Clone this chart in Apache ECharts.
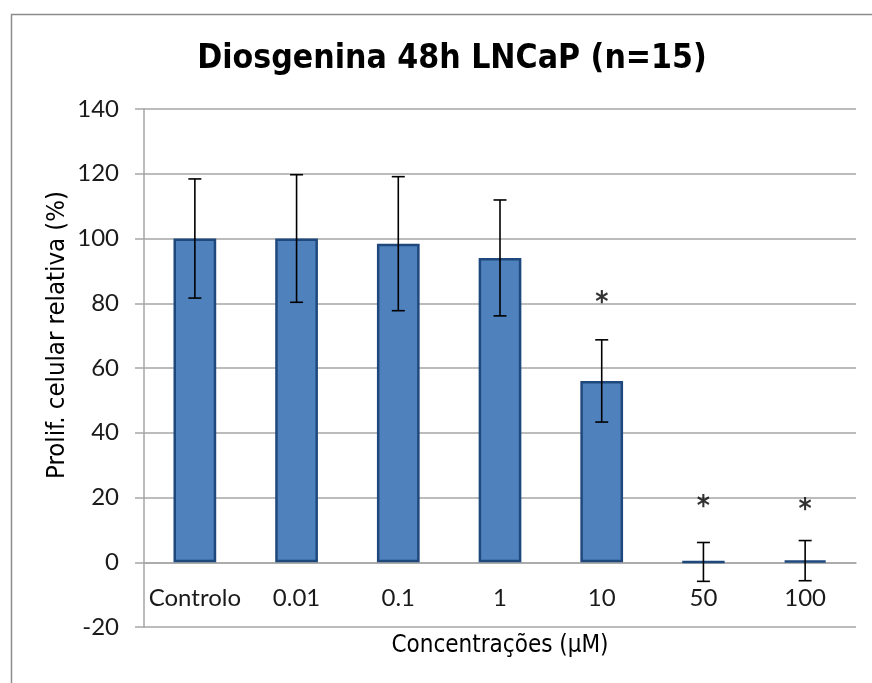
<!DOCTYPE html>
<html>
<head>
<meta charset="utf-8">
<script src="https://cdn.jsdelivr.net/npm/echarts@6/dist/echarts.min.js"></script>
<style>
  html, body { margin: 0; padding: 0; background: #ffffff; }
  #chart { width: 872px; height: 683px; }
</style>
</head>
<body>
<div id="chart"></div>
<script>
// Relative proliferation of LNCaP cells after 48 h of diosgenin
const categories = ['Controlo', '0.01', '0.1', '1', '10', '50', '100'];
const meanValues = [100, 100, 98.4, 94.0, 56.0, 0.1, 0.5];
const errorValues = [18.4, 19.7, 20.7, 17.9, 12.7, 6.0, 6.2];
// significance marks: category index and height of the asterisk
const starCategories = [4, 5, 6];
const starHeights = [82, 19, 18];
const yMin = -20, yMax = 140, yStep = 20;

const labelFont = 'Lato, "Open Sans", sans-serif';
const nameFont = '"DejaVu Sans Condensed", "DejaVu Sans", sans-serif';

const W = 872, H = 683;
const gridBox = { left: 144, right: 16, top: 109, bottom: 56 };
// the category axis sits on y = 0, so lift it from the bottom of the grid
const plotHeight = H - gridBox.top - gridBox.bottom;
const zeroLift = plotHeight * (0 - yMin) / (yMax - yMin);

const errorData = meanValues.map((v, i) => [i, v - errorValues[i], v + errorValues[i]]);
const starData = starCategories.map((c, i) => [c, starHeights[i]]);

const chart = echarts.init(document.getElementById('chart'), null, { renderer: 'canvas' });

chart.setOption({
  backgroundColor: '#ffffff',
  animation: false,
  title: {
    text: 'Diosgenina 48h LNCaP (n=15)',
    left: 447,
    textAlign: 'center',
    top: 37,
    textStyle: { fontFamily: nameFont, fontWeight: 'bold', fontSize: 33.5, color: '#000' }
  },
  graphic: [
    {
      type: 'rect',
      left: 9, top: 12,
      shape: { x: 0, y: 0, width: 880, height: 700 },
      style: { fill: 'none', stroke: '#8c8c8c', lineWidth: 1.5 },
      silent: true, z: -10
    },
    {
      type: 'text',
      x: 57, y: 335,
      rotation: Math.PI / 2,
      style: {
        text: 'Prolif. celular relativa (%)',
        fontFamily: nameFont, fontSize: 25.5, fill: '#000',
        align: 'center', verticalAlign: 'middle'
      }
    }
  ],
  grid: Object.assign({ containLabel: false, outerBoundsMode: 'none' }, gridBox),
  xAxis: {
    type: 'category',
    data: categories,
    offset: -zeroLift,
    name: 'Concentrações (µM)',
    nameLocation: 'middle',
    nameGap: 72,
    nameTextStyle: { fontFamily: nameFont, fontSize: 24, color: '#000' },
    axisLine: { onZero: false, lineStyle: { color: '#a6a6a6', width: 1.5 } },
    axisTick: { show: false },
    axisLabel: { interval: 0, margin: 24, fontFamily: labelFont, fontSize: 24, color: '#1a1a1a' }
  },
  yAxis: {
    type: 'value',
    min: yMin, max: yMax, interval: yStep,
    axisLine: { show: true, lineStyle: { color: '#a6a6a6', width: 1.5 } },
    axisTick: { show: true, inside: false, length: 9, lineStyle: { color: '#a6a6a6', width: 1.5 } },
    axisLabel: { margin: 25, fontFamily: labelFont, fontSize: 24, color: '#1a1a1a' },
    splitLine: { show: true, lineStyle: { color: '#a6a6a6', width: 1.5 } }
  },
  series: [
    {
      type: 'bar',
      data: meanValues,
      barWidth: '42%',
      itemStyle: { color: '#4f81bd', borderColor: '#1f497d', borderWidth: 2.5 },
      z: 2
    },
    {
      type: 'custom',
      data: errorData,
      encode: { x: 0, y: [1, 2] },
      z: 3,
      renderItem: function (params, api) {
        const low = api.coord([api.value(0), api.value(1)]);
        const high = api.coord([api.value(0), api.value(2)]);
        const half = 6.5;
        const st = { stroke: '#000', lineWidth: 1.6 };
        return {
          type: 'group',
          children: [
            { type: 'line', shape: { x1: low[0], y1: low[1], x2: high[0], y2: high[1] }, style: st },
            { type: 'line', shape: { x1: high[0] - half, y1: high[1], x2: high[0] + half, y2: high[1] }, style: st },
            { type: 'line', shape: { x1: low[0] - half, y1: low[1], x2: low[0] + half, y2: low[1] }, style: st }
          ]
        };
      }
    },
    {
      type: 'scatter',
      data: starData,
      symbolSize: 1,
      itemStyle: { color: 'rgba(0,0,0,0)' },
      z: 4,
      label: {
        show: true,
        position: 'inside',
        formatter: '*',
        offset: [0, 7],
        fontFamily: nameFont,
        fontWeight: 'bold',
        fontSize: 28,
        color: '#000'
      }
    }
  ]
});
</script>
</body>
</html>
